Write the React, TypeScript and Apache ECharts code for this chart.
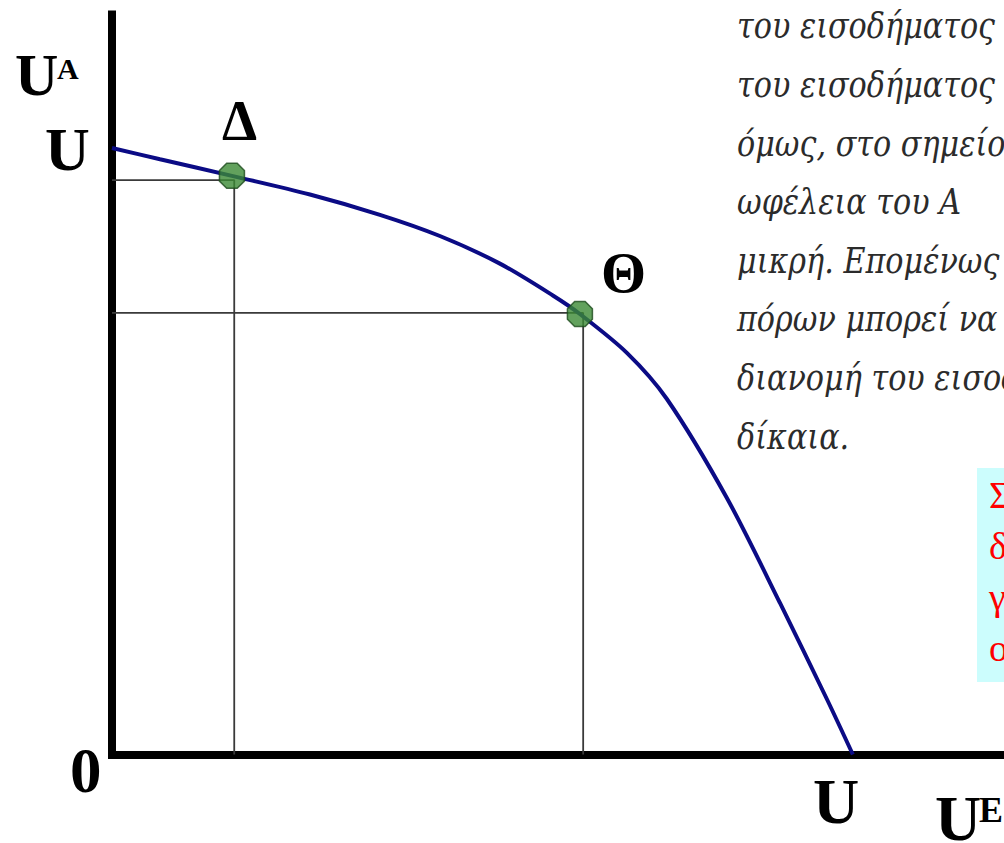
import React, { useEffect, useRef } from "react";
import * as echarts from "echarts";

// Utility possibility frontier (abstract units: U = 100 on both axes)
const frontierX = [0, 6.48, 16.19, 26.72, 36.17, 44.26, 52.36, 59.51, 63.16, 69.5, 74.9, 83.0, 90.15, 96.49, 100];
const frontierY = [100, 98.14, 95.4, 92.32, 88.97, 85.48, 80.93, 75.68, 72.62, 66.22, 58.61, 42.29, 25.02, 9.15, 0];

const pointNames = ["Δ", "Θ"];
const pointX = [16.19, 63.16];
const pointY = [95.4, 72.62];
const guideX = [16.5, 63.6];
const guideY = [94.7, 72.8];

const xMax = 120;
const yMax = 122;

const paragraphLines = [
  "του εισοδήματος",
  "του εισοδήματος",
  "όμως, στο σημείο",
  "ωφέλεια του Α",
  "μικρή. Επομένως",
  "πόρων μπορεί να",
  "διανομή του εισοδήματος",
  "δίκαια.",
];
const noteLines = ["Σ", "δ", "γ", "ο"];

const SERIF = '"Liberation Serif", "Times New Roman", serif';
const ITALIC_SERIF = '"DejaVu Serif", "Liberation Serif", serif';

function boldText(text: string, x: number, yCenter: number, size: number) {
  return {
    type: "text",
    x,
    y: yCenter,
    silent: true,
    style: {
      text,
      fontFamily: SERIF,
      fontWeight: "bold",
      fontSize: size,
      fill: "#000",
      align: "left",
      verticalAlign: "middle",
    },
  };
}

export default function App() {
  const ref = useRef<HTMLDivElement>(null);

  useEffect(() => {
    if (!ref.current) return;
    const chart = echarts.init(ref.current, null, { renderer: "svg" });

    const frontier = frontierX.map((x, i) => [x, frontierY[i]]);
    const points = pointX.map((x, i) => ({ value: [x, pointY[i]], name: pointNames[i] }));
    const guides = guideX.map((gx, i) => ({
      type: "line",
      data: [
        [0, guideY[i]],
        [gx, guideY[i]],
        [gx, 0],
      ],
      symbol: "none",
      silent: true,
      z: 1,
      lineStyle: { color: "#3a3a3a", width: 1.8 },
    }));

    const paraSize = 36;
    const paraBase0 = 38;
    const paraStep = 58.6;
    const paragraph = paragraphLines.map((t, i) => ({
      type: "text",
      x: 737,
      y: paraBase0 + i * paraStep - 0.3375 * paraSize,
      scaleX: 0.84,
      silent: true,
      style: {
        text: t,
        fontFamily: ITALIC_SERIF,
        fontStyle: "italic",
        fontSize: paraSize,
        fill: "#2b2b2b",
        align: "left",
        verticalAlign: "middle",
      },
    }));

    const noteSize = 38;
    const note = noteLines.map((t, i) => ({
      type: "text",
      x: 989,
      y: 508 + i * 51 - 0.3375 * noteSize,
      silent: true,
      style: {
        text: t,
        fontFamily: SERIF,
        fontSize: noteSize,
        fill: "#ff0000",
        align: "left",
        verticalAlign: "middle",
      },
    }));

    chart.setOption({
      animation: false,
      backgroundColor: "#ffffff",
      grid: { left: 112, right: 3, top: 14.5, bottom: 88.5, outerBoundsMode: "none" },
      xAxis: {
        type: "value",
        min: 0,
        max: xMax,
        axisLine: { show: true, onZero: false, lineStyle: { color: "#000", width: 8, cap: "square" } },
        axisTick: { show: false },
        axisLabel: { show: false },
        splitLine: { show: false },
      },
      yAxis: {
        type: "value",
        min: 0,
        max: yMax,
        axisLine: { show: true, onZero: false, lineStyle: { color: "#000", width: 8, cap: "square" } },
        axisTick: { show: false },
        axisLabel: { show: false },
        splitLine: { show: false },
      },
      graphic: [
        {
          type: "rect",
          shape: { x: 977, y: 468, width: 40, height: 214 },
          style: { fill: "#ccfdfd" },
          silent: true,
          z: -10,
        },
        ...paragraph,
        ...note,
        boldText("U", 15, 75, 60),
        boldText("A", 57, 68, 30),
        boldText("U", 45, 149, 62),
        boldText("Δ", 222, 121, 56),
        boldText("Θ", 601, 272, 58),
        boldText("0", 70, 771, 63),
        boldText("U", 813, 801, 64),
        boldText("U", 935, 818, 64),
        boldText("E", 979, 810, 36),
      ],
      series: [
        ...guides,
        {
          type: "line",
          data: frontier,
          smooth: 0.3,
          symbol: "none",
          silent: true,
          z: 3,
          lineStyle: { color: "#0b0b85", width: 4 },
        },
        {
          type: "scatter",
          data: points,
          symbol:
            "path://M29,0 L71,0 L100,29 L100,71 L71,100 L29,100 L0,71 L0,29 Z",
          symbolSize: 25,
          z: 5,
          itemStyle: { color: "#3b8a35", borderColor: "#1b4a1b", borderWidth: 1.5 },
        },
      ],
    });

    return () => chart.dispose();
  }, []);

  return (
    <div
      ref={ref}
      style={{ position: "absolute", left: 0, top: 0, width: 1004, height: 843, overflow: "hidden" }}
    />
  );
}
